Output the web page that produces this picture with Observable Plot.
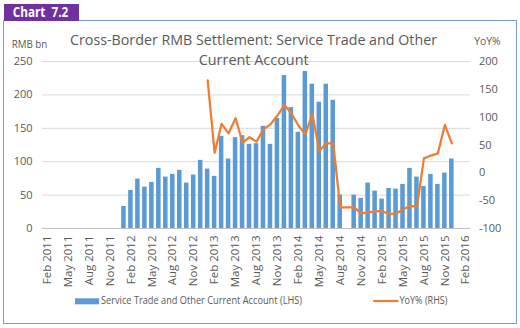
<!DOCTYPE html>
<html>
<head>
<meta charset="utf-8">
<script src="https://cdn.jsdelivr.net/npm/d3@7"></script>
<script src="https://cdn.jsdelivr.net/npm/@observablehq/plot@0.6"></script>
<style>
  html, body { margin: 0; padding: 0; background: #fff; }
  #chart { width: 520px; height: 328px; }
</style>
</head>
<body>
<div id="chart"></div>
<script>
// ---- Data ----
const monthNames = ["Jan","Feb","Mar","Apr","May","Jun","Jul","Aug","Sep","Oct","Nov","Dec"];
const years = [2011, 2012, 2013, 2014, 2015, 2016];
// categories: Feb 2011 .. Feb 2016
const months = [];
for (const yr of years) for (const m of monthNames) {
  const label = `${m} ${yr}`;
  if ((yr === 2011 && m === "Jan") || (yr === 2016 && !["Jan","Feb"].includes(m))) continue;
  months.push(label);
}
// Service Trade and Other Current Account (RMB bn), Jan 2012 .. Dec 2015
const barMonthsStart = "Jan 2012";
const serviceTrade = [
  33, 57, 74, 62, 69, 90, 77, 81, 87, 68, 80, 102,
  89, 78, 138, 104, 136, 139, 126, 127, 153, 126, 165, 229,
  181, 144, 235, 216, 189, 216, 192, 50, null, 50, 45, 68,
  56, 44, 60, 59, 66, 90, 77, 63, 81, 66, 83, 104
];
// YoY% (RHS), Jan 2013 .. Dec 2015
const lineMonthsStart = "Jan 2013";
const yoy = [
  166, 36, 88, 71, 98, 54, 64, 56, 78, 87, 103, 122,
  107, 85, 69, 106, 39, 53, 53, -62, -62, -62, -73, -71,
  -69, -69, -74, -73, -66, -59, -61, 26, 31, 35, 86, 53
];
const leftTicks = [0, 50, 100, 150, 200, 250];
const rightTicks = [-100, -50, 0, 50, 100, 150, 200];
const xTickLabels = months.filter((d, i) => i % 3 === 0);

// ---- Tables ----
const b0 = months.indexOf(barMonthsStart);
const barData = serviceTrade.map((v, i) => ({month: months[b0 + i], value: v}));
const l0 = months.indexOf(lineMonthsStart);
const lineData = yoy.map((v, i) => ({month: months[l0 + i], value: v}));

// right axis (-100..200) mapped onto left axis (0..250)
const toLeft = v => (v + 100) * 250 / 300;
const fromLeft = v => Math.round(v * 300 / 250 - 100);

const BLUE = "#5B9BD5", ORANGE = "#ED7D31", GRAY = "#595959";

const chart = Plot.plot({
  width: 520,
  height: 328,
  marginTop: 61,
  marginBottom: 100,
  marginLeft: 42,
  marginRight: 50,
  style: {fontFamily: "'Open Sans', sans-serif", fontSize: "11px", color: GRAY, background: "transparent", overflow: "visible"},
  x: {type: "band", domain: months, padding: 0.35, label: null},
  y: {domain: [0, 250], label: null},
  marks: [
    Plot.gridY(leftTicks, {stroke: "#D9D9D9", strokeOpacity: 1}),
    Plot.barY(barData, {x: "month", y: "value", fill: BLUE}),
    Plot.ruleY([0], {stroke: "#BFBFBF"}),
    Plot.lineY(lineData, {x: "month", y: d => toLeft(d.value), stroke: ORANGE, strokeWidth: 2.25, strokeLinejoin: "round"}),
    Plot.axisY(leftTicks, {anchor: "left", tickSize: 0, tickPadding: 10, label: null, fill: GRAY}),
    Plot.axisY(rightTicks.map(toLeft), {anchor: "right", tickSize: 0, tickPadding: 8.5, tickFormat: fromLeft, label: null, fill: GRAY}),
    Plot.axisX(xTickLabels, {anchor: "bottom", tickSize: 0, tickPadding: 7, tickRotate: -90, label: null, fill: GRAY, fontSize: 11.5})
  ]
});
document.getElementById("chart").appendChild(chart);

// ---- Decorations (frame, header, title, axis titles, legend) ----
const svg = d3.select(chart);
const deco = svg.insert("g", ":first-child");
deco.append("rect").attr("x", 3.5).attr("y", 20.5).attr("width", 513).attr("height", 303)
  .attr("fill", "none").attr("stroke", "#6F9FD8").attr("stroke-width", 1);
const over = svg.append("g").attr("text-anchor", "start");
over.append("rect").attr("x", 4).attr("y", 4).attr("width", 75).attr("height", 17).attr("fill", "#7030A0");
function txt(s, x, y, size, len, opts = {}) {
  const t = over.append("text").attr("x", x).attr("y", y)
    .attr("text-anchor", "start")
    .attr("font-family", "'Open Sans', sans-serif").attr("font-size", size)
    .attr("fill", opts.fill || GRAY).attr("font-weight", opts.weight || 400)
    .text(s);
  if (len) t.attr("textLength", len).attr("lengthAdjust", "spacingAndGlyphs");
  return t;
}
txt("Chart  7.2", 12.7, 17.3, 13.5, 55.6, {fill: "#fff", weight: 700});
txt("Cross-Border RMB Settlement: Service Trade and Other", 70, 45, 14.5, 367);
txt("Current Account", 198.7, 65, 14.5, 110);
txt("RMB bn", 11.7, 47.5, 11, 35.6);
txt("YoY%", 474.3, 45, 11, 26.4);
// legend
over.append("rect").attr("x", 75).attr("y", 298.3).attr("width", 24).attr("height", 6).attr("fill", BLUE);
txt("Service Trade and Other Current Account (LHS)", 101, 304, 10.5, 201);
over.append("line").attr("x1", 373.3).attr("x2", 398.3).attr("y1", 301).attr("y2", 301)
  .attr("stroke", ORANGE).attr("stroke-width", 2.25);
txt("YoY% (RHS)", 399.5, 304, 10.5, 48);
</script>
</body>
</html>
